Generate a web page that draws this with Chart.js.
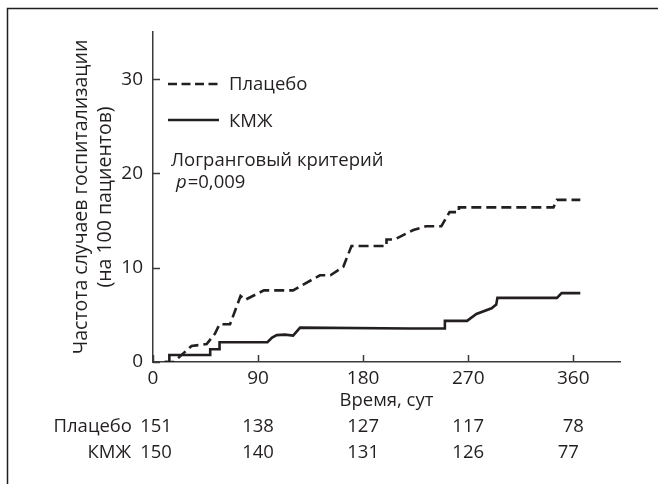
<!DOCTYPE html>
<html>
<head>
<meta charset="utf-8">
<script src="https://cdn.jsdelivr.net/npm/chart.js@4.4.0/dist/chart.umd.min.js"></script>
<style>
  html, body { margin: 0; padding: 0; background: #fff; }
  canvas { display: block; }
</style>
</head>
<body>
<canvas id="c" width="658" height="484"></canvas>
<script>
// ---- data ----
const xTicks = [0, 90, 180, 270, 360];
const yTicks = [0, 10, 20, 30];

const placeboDays = [10, 18, 24, 33, 46, 53, 57, 66, 75, 79, 95, 120, 143, 152, 163, 170, 200, 200, 207, 223, 234, 247, 254, 262, 262, 343, 346, 366];
const placeboRate = [0, 0, 0.7, 1.7, 1.9, 3.0, 4.0, 4.0, 7.0, 6.6, 7.6, 7.6, 9.2, 9.2, 10.1, 12.3, 12.3, 13.0, 13.0, 14.0, 14.4, 14.4, 15.9, 15.9, 16.4, 16.4, 17.2, 17.2];

const kmzhDays = [10, 14, 14, 49, 49, 57, 57, 98, 102, 106, 113, 120, 126, 220, 250, 250, 269, 277, 290, 294, 295, 346, 350, 366];
const kmzhRate = [0, 0, 0.74, 0.74, 1.35, 1.35, 2.1, 2.1, 2.6, 2.85, 2.9, 2.8, 3.65, 3.55, 3.55, 4.36, 4.36, 5.1, 5.7, 6.1, 6.8, 6.8, 7.3, 7.3];

const seriesNames = ['Плацебо', 'КМЖ'];
const riskDays = [0, 90, 180, 270, 360];
const riskPlacebo = [151, 138, 127, 117, 78];
const riskKmzh = [150, 140, 131, 126, 77];

const yTitle = ['Частота случаев госпитализации', '(на 100 пациентов)'];
const xTitle = 'Время, сут';
const testLabel = 'Логранговый критерий';
const pLabel = 'p';
const pValue = '=0,009';

// ---- styling ----
const INK = '#231f20';
const AXIS = '#3a3a3a';
const FONT = "'Open Sans', 'Noto Sans', sans-serif";
const FS = 18.5;
const TICK_FS = 19;

const toPts = (xs, ys) => xs.map((x, i) => ({ x: x, y: ys[i] }));

const decorPlugin = {
  id: 'decor',
  beforeDraw(chart) {
    const ctx = chart.ctx;
    ctx.save();
    ctx.fillStyle = '#fff';
    ctx.fillRect(0, 0, chart.width, chart.height);
    // frame: top and left edges
    ctx.strokeStyle = '#1e1e1e';
    ctx.lineWidth = 1.5;
    ctx.beginPath();
    ctx.moveTo(7.5, chart.height);
    ctx.lineTo(7.5, 8.5);
    ctx.lineTo(chart.width, 8.5);
    ctx.stroke();
    ctx.restore();
  },
  afterDraw(chart) {
    const ctx = chart.ctx;
    const xs = chart.scales.x, ys = chart.scales.y;
    const ca = chart.chartArea;
    ctx.save();
    // inward tick marks
    ctx.strokeStyle = AXIS;
    ctx.lineWidth = 1.5;
    xTicks.forEach(v => {
      const px = Math.round(xs.getPixelForValue(v)) + 0.5;
      ctx.beginPath();
      ctx.moveTo(px, ca.bottom);
      ctx.lineTo(px, ca.bottom - 7);
      ctx.stroke();
    });
    yTicks.forEach(v => {
      const py = Math.round(ys.getPixelForValue(v)) + 0.5;
      ctx.beginPath();
      ctx.moveTo(ca.left, py);
      ctx.lineTo(ca.left + 7, py);
      ctx.stroke();
    });

    // legend
    const lx0 = ca.left + 15, lx1 = ca.left + 66;
    ctx.strokeStyle = INK;
    ctx.lineWidth = 2.5;
    ctx.setLineDash([9, 4.5]);
    ctx.beginPath();
    ctx.moveTo(lx0, 84); ctx.lineTo(lx1 + 1, 84);
    ctx.stroke();
    ctx.setLineDash([]);
    ctx.beginPath();
    ctx.moveTo(lx0, 120); ctx.lineTo(lx1, 120);
    ctx.stroke();

    ctx.fillStyle = INK;
    ctx.font = FS + 'px ' + FONT;
    ctx.textBaseline = 'middle';
    ctx.textAlign = 'left';
    ctx.fillText(seriesNames[0], ca.left + 76, 85);
    ctx.fillText(seriesNames[1], ca.left + 76, 121.5);
    ctx.fillText(testLabel, ca.left + 18, 161);
    ctx.font = 'italic ' + FS + 'px ' + FONT;
    ctx.fillText(pLabel, ca.left + 23, 183);
    const pw = ctx.measureText(pLabel).width;
    ctx.font = FS + 'px ' + FONT;
    ctx.fillText(pValue, ca.left + 23 + pw + 1, 183);

    // number-at-risk table
    ctx.textAlign = 'right';
    ctx.fillText(seriesNames[0], 132, 427);
    ctx.fillText(seriesNames[1], 131, 453);
    ctx.textAlign = 'center';
    riskDays.forEach((d, i) => {
      const px = xs.getPixelForValue(d);
      ctx.fillText(String(riskPlacebo[i]), px + (i === 0 ? 3 : 0), 427);
      ctx.fillText(String(riskKmzh[i]), px + (i === 0 ? 3 : (i === 4 ? -5 : 0)), 453);
    });
    ctx.restore();
  }
};

new Chart(document.getElementById('c'), {
  type: 'line',
  data: {
    datasets: [
      {
        label: seriesNames[0],
        data: toPts(placeboDays, placeboRate),
        borderColor: INK,
        borderWidth: 2.6,
        borderDash: [10, 5],
        pointRadius: 0,
        tension: 0,
        fill: false
      },
      {
        label: seriesNames[1],
        data: toPts(kmzhDays, kmzhRate),
        borderColor: INK,
        borderWidth: 2.6,
        pointRadius: 0,
        tension: 0,
        fill: false
      }
    ]
  },
  options: {
    responsive: false,
    animation: false,
    devicePixelRatio: 1,
    layout: { padding: { left: 0, top: 32, right: 38, bottom: 0 } },
    plugins: {
      legend: { display: false },
      tooltip: { enabled: false }
    },
    scales: {
      x: {
        type: 'linear',
        min: 0,
        max: 400,
        afterBuildTicks: s => { s.ticks = xTicks.map(v => ({ value: v })); },
        afterFit: s => { s.height = 122; },
        grid: { display: false, drawTicks: false },
        border: { display: true, color: AXIS, width: 1.5 },
        ticks: { color: INK, font: { family: FONT, size: TICK_FS }, padding: 5, maxRotation: 0, autoSkip: false },
        title: {
          display: true, text: xTitle, color: INK,
          font: { family: FONT, size: FS, lineHeight: 1.2 },
          padding: { top: 0, bottom: 72 }
        }
      },
      y: {
        type: 'linear',
        min: 0,
        max: 35,
        afterBuildTicks: s => { s.ticks = yTicks.map(v => ({ value: v })); },
        afterFit: s => { s.width = 153; },
        grid: { display: false, drawTicks: false },
        border: { display: true, color: AXIS, width: 1.5 },
        ticks: { color: INK, font: { family: FONT, size: TICK_FS }, padding: 10 },
        title: {
          display: true, text: yTitle, color: INK,
          font: { family: FONT, size: 19.5, lineHeight: 1.2 },
          padding: { top: 70, bottom: 0 }
        }
      }
    }
  },
  plugins: [decorPlugin]
});
</script>
</body>
</html>
